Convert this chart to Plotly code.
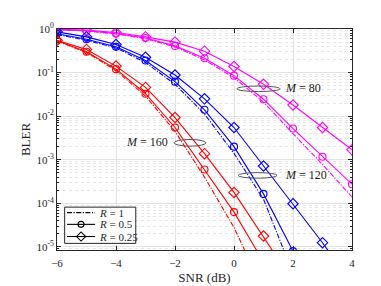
import plotly.graph_objects as go

snr = [-6, -5, -4, -3, -2, -1, 0, 1, 2, 3, 4]

# M = 80 (magenta)
m80_r1 = [0.96, 0.90, 0.77, 0.60, 0.39, 0.195, 0.077, 0.021, 0.0040, 0.00078, 0.00014]
m80_r05 = [0.965, 0.91, 0.79, 0.62, 0.41, 0.214, 0.085, 0.0245, 0.0052, 0.00117, 0.000275]
m80_r025 = [0.98, 0.94, 0.83, 0.66, 0.50, 0.31, 0.138, 0.054, 0.018, 0.0055, 0.0017]

# M = 120 (blue)
m120_r1 = [0.75, 0.55, 0.37, 0.17, 0.054, 0.0112, 0.0014, 1.25e-4, 2.5e-6]
m120_r05 = [0.78, 0.58, 0.39, 0.19, 0.062, 0.014, 0.0020, 1.65e-4, 8e-6]
m120_r025 = [0.86, 0.66, 0.44, 0.225, 0.088, 0.025, 0.0055, 0.00072, 9.8e-5, 1.25e-5, 1.4e-6]

# M = 160 (red)
m160_r1 = [0.53, 0.29, 0.112, 0.029, 0.0045, 4.0e-4, 2.8e-5, 1.0e-6]
m160_r05 = [0.54, 0.30, 0.12, 0.0327, 0.0055, 6.0e-4, 6.3e-5, 4.5e-6]
m160_r025 = [0.55, 0.34, 0.141, 0.0457, 0.0093, 0.00138, 1.78e-4, 1.78e-5, 1.6e-6]

legend_labels = ["<i>R</i> = 1", "<i>R</i> = 0.5", "<i>R</i> = 0.25"]

y_tickvals = [1e-5, 1e-4, 1e-3, 1e-2, 1e-1, 1]
y_ticktext = ["10<sup>-5</sup>", "10<sup>-4</sup>", "10<sup>-3</sup>",
              "10<sup>-2</sup>", "10<sup>-1</sup>", "10<sup>0</sup>"]
x_tickvals = [-6, -4, -2, 0, 2, 4]

FONT = "Liberation Serif"
TXT = "#262626"
DASHDOT = "5px,1.5px,1.2px,1.5px"
colors = {"80": "#FF00FF", "120": "#0000FF", "160": "#FF0000"}
styles = [
    dict(dash=DASHDOT, symbol=None, size=0),
    dict(dash="solid", symbol="circle-open", size=7),
    dict(dash="solid", symbol="diamond-open", size=8),
]

fig = go.Figure()

series = [
    ("80", [m80_r1, m80_r05, m80_r025]),
    ("120", [m120_r1, m120_r05, m120_r025]),
    ("160", [m160_r1, m160_r05, m160_r025]),
]
for m, ys in series:
    c = colors[m]
    for st, yv in zip(styles, ys):
        if st["symbol"] is None:
            fig.add_trace(go.Scatter(x=snr[:len(yv)], y=yv, mode="lines",
                                     line=dict(color=c, width=1.1, dash=st["dash"]),
                                     showlegend=False))
        else:
            fig.add_trace(go.Scatter(x=snr[:len(yv)], y=yv, mode="lines+markers",
                                     line=dict(color=c, width=1.1),
                                     marker=dict(symbol=st["symbol"], size=st["size"], color=c,
                                                 line=dict(width=1.1, color=c)),
                                     showlegend=False))

# hand-drawn legend on an overlay axis (paper-like 0..1 coordinates)
LX0, LX1, LY0, LY1 = 0.026, 0.267, 0.030, 0.194
fig.add_trace(go.Scatter(x=[LX0, LX1, LX1, LX0, LX0], y=[LY0, LY0, LY1, LY1, LY0],
                         mode="lines", fill="toself", fillcolor="white",
                         line=dict(color=TXT, width=1), xaxis="x2", yaxis="y2",
                         showlegend=False, hoverinfo="skip"))
entry_y = [0.169, 0.116, 0.061]
for st, ey, lab in zip(styles, entry_y, legend_labels):
    fig.add_trace(go.Scatter(x=[0.034, 0.129], y=[ey, ey], mode="lines",
                             line=dict(color="black", width=1.1, dash=st["dash"]),
                             xaxis="x2", yaxis="y2", showlegend=False, hoverinfo="skip"))
    if st["symbol"] is not None:
        fig.add_trace(go.Scatter(x=[0.0815], y=[ey], mode="markers",
                                 marker=dict(symbol=st["symbol"], size=st["size"] - 1,
                                             color="black", line=dict(width=1.1, color="black")),
                                 xaxis="x2", yaxis="y2", showlegend=False, hoverinfo="skip"))
    fig.add_annotation(text=lab, x=0.136, y=ey, xref="paper", yref="paper",
                       xanchor="left", yanchor="middle", showarrow=False,
                       font=dict(family=FONT, size=11, color=TXT))

# ellipses (paper coords)
ell = [
    (0.610, 0.756, 0.717, 0.742),
    (0.614, 0.746, 0.325, 0.350),
    (0.397, 0.505, 0.470, 0.500),
]
for x0, x1, y0, y1 in ell:
    fig.add_shape(type="circle", xref="paper", yref="paper", x0=x0, x1=x1, y0=y0, y1=y1,
                  line=dict(color="#555555", width=1))

ann = [
    ("<i>M</i> = 80", 0.766, 0.734, "left"),
    ("<i>M</i> = 120", 0.766, 0.339, "left"),
    ("<i>M</i> = 160", 0.382, 0.487, "right"),
]
for t, x, y, xa in ann:
    fig.add_annotation(text=t, x=x, y=y, xref="paper", yref="paper", xanchor=xa,
                       yanchor="middle", showarrow=False,
                       font=dict(family=FONT, size=12, color="#222222"))

axis_common = dict(showline=True, linecolor=TXT, linewidth=1, mirror="ticks",
                   ticks="inside", ticklen=4, tickcolor=TXT,
                   gridcolor="#e3e3e3", gridwidth=1, zeroline=False,
                   tickfont=dict(family=FONT, size=11, color=TXT))

fig.update_xaxes(range=[-6, 4], tickvals=x_tickvals, ticklabelstandoff=3,
                 title=dict(text="SNR (dB)", font=dict(family=FONT, size=13, color=TXT),
                            standoff=4),
                 **axis_common)
fig.update_yaxes(type="log", range=[-5.07, 0], tickvals=y_tickvals, ticktext=y_ticktext,
                 title=dict(text="BLER", font=dict(family=FONT, size=13, color=TXT),
                            standoff=2),
                 minor=dict(ticks="inside", ticklen=2, tickcolor=TXT, showgrid=True,
                            gridcolor="#e6e6e6", griddash="dot", dtick="D1"),
                 **axis_common)

fig.update_layout(
    width=381, height=286,
    margin=dict(l=49, r=37, t=21, b=32),
    paper_bgcolor="white", plot_bgcolor="white",
    font=dict(family=FONT, size=11, color=TXT),
    showlegend=False,
    xaxis2=dict(overlaying="x", range=[0, 1], visible=False, fixedrange=True),
    yaxis2=dict(overlaying="y", range=[0, 1], visible=False, fixedrange=True),
)

fig.write_html("out.html")
